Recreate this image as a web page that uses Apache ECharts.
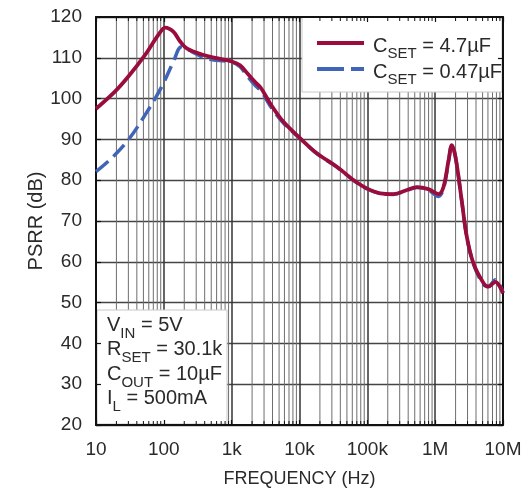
<!DOCTYPE html>
<html>
<head>
<meta charset="utf-8">
<script src="https://cdn.jsdelivr.net/npm/echarts@6/dist/echarts.min.js"></script>
<style>
    html, body { margin: 0; padding: 0; background: #fff; }
    #chart { width: 526px; height: 490px; }
</style>
</head>
<body>
<div id="chart"></div>
<script>
// x tick positions and labels (log axis, decades)
var xTickValues = [10, 100, 1000, 10000, 100000, 1000000, 10000000];
var xTickLabels = ['10', '100', '1k', '10k', '100k', '1M', '10M'];
var yMin = 20, yMax = 120, yStep = 10;

// PSRR curves: [frequency Hz, dB]
var cset47 = [
    [10, 97.5], [19, 101.7], [30, 105.4], [53, 110.7], [83, 115.6], [105, 117.4],
    [138, 116.4], [174, 114], [218, 112.3], [363, 110.8], [600, 109.9], [1000, 109.1],
    [1330, 108.2], [1700, 106.2], [2200, 104.1], [2700, 102.6], [3700, 98.8], [5800, 94.3],
    [10200, 90.3], [18000, 86.6], [35500, 83.3], [63000, 80], [98000, 78], [155000, 76.8],
    [243000, 76.6], [384000, 77.6], [537000, 78.3], [794000, 77.8], [1120000, 76.6],
    [1330000, 78.4], [1580000, 85], [1760000, 88.6], [1990000, 85.8], [2460000, 75.1],
    [2930000, 66.1], [3670000, 59.6], [5200000, 54.7], [6100000, 53.9], [7700000, 55.1],
    [10000000, 52.3]
];
var cset047 = [
    [10, 82.1], [17, 85.4], [30, 89.9], [53, 96], [93, 102.9], [138, 109], [183, 112.7],
    [258, 111.5], [406, 109.9], [600, 109.4], [1000, 109.0], [1330, 107.8], [1700, 105.5],
    [2200, 103.3], [2700, 101.9], [3700, 98.2], [5800, 94.0], [10200, 90.2], [18000, 86.5],
    [35500, 83.2], [63000, 79.9], [98000, 77.9], [155000, 76.7], [243000, 76.5],
    [384000, 77.5], [537000, 78.2], [794000, 77.6], [1120000, 76.0], [1330000, 78.0],
    [1580000, 84.8], [1760000, 88.5], [1990000, 85.7], [2460000, 75.0], [2930000, 66.0],
    [3670000, 59.5], [5200000, 54.3], [6100000, 54.0], [7700000, 55.6], [10000000, 52.5]
];
var seriesNames = ['C_SET = 4.7µF', 'C_SET = 0.47µF'];
var notes = ['V_IN = 5V', 'R_SET = 30.1k', 'C_OUT = 10µF', 'I_L = 500mA'];

// minor log grid positions 2..9 in each decade
var minorMult = [2, 3, 4, 5, 6, 7, 8, 9];
var minorFreqs = [];
xTickValues.slice(0, -1).forEach(function (d) {
    minorMult.forEach(function (m) { minorFreqs.push([d * m, yMin]); });
});

var FONT = '"Liberation Sans", Arial, sans-serif';
var TXT = '#2a2a2a';
var RED = '#9a0c3c', BLUE = '#3f64b8';

function sub(s) {
    return s.replace(/^(\w)_(\w+)(.*)$/, '{m|$1}{s|$2}{m|$3}');
}
var rich = {
    m: { fontSize: 20, lineHeight: 22, verticalAlign: 'top', fontFamily: FONT, color: TXT },
    s: { fontSize: 15, lineHeight: 15, padding: [10, 0, 0, 0], verticalAlign: 'top', fontFamily: FONT, color: TXT }
};
var richG = {
    m: { fontSize: 20, lineHeight: 24.5, verticalAlign: 'top', fontFamily: FONT, fill: TXT },
    s: { fontSize: 15, lineHeight: 15, padding: [11, 0, 0, 0], verticalAlign: 'top', fontFamily: FONT, fill: TXT }
};

function frameAxis(pos, extra) {
    var a = {
        type: 'log', logBase: 10, min: 10, max: 10000000, position: pos, z: 3,
        axisLine: { show: true, onZero: false, lineStyle: { color: '#111', width: 2 } },
        axisTick: { show: true, inside: true, length: 5, lineStyle: { color: '#111', width: 1.2 } },
        axisLabel: { show: false },
        splitLine: { show: false }
    };
    return Object.assign(a, extra || {});
}
function frameYAxis(pos, extra) {
    var a = {
        type: 'value', min: yMin, max: yMax, interval: yStep, position: pos, z: 3,
        axisLine: { show: true, onZero: false, lineStyle: { color: '#111', width: 2 } },
        axisTick: { show: true, inside: true, length: 5, lineStyle: { color: '#111', width: 1.2 } },
        axisLabel: { show: false },
        splitLine: { show: false }
    };
    return Object.assign(a, extra || {});
}

var chart = echarts.init(document.getElementById('chart'));
var option = {
    animation: false,
    grid: { left: 96, right: 23, top: 17, bottom: 65, outerBoundsMode: 'none', containLabel: false },
    xAxis: [
        {
            type: 'log', logBase: 10, min: 10, max: 10000000, position: 'bottom', z: 0,
            axisLine: { show: false }, axisTick: { show: false }, axisLabel: { show: false },
            splitLine: { show: true, lineStyle: { color: '#333', width: 1.5 } }
        },
        frameAxis('bottom', {
            axisLabel: {
                show: true, fontSize: 19, fontFamily: FONT, color: TXT, margin: 15,
                showMinLabel: true, showMaxLabel: true,
                formatter: function (v) {
                    return xTickLabels[xTickValues.indexOf(Math.round(v))] || '';
                }
            },
            name: 'FREQUENCY (Hz)', nameLocation: 'middle', nameGap: 45, nameMoveOverlap: false,
            nameTextStyle: { fontSize: 18, fontFamily: FONT, color: TXT }
        }),
        frameAxis('top')
    ],
    yAxis: [
        {
            type: 'value', min: yMin, max: yMax, interval: yStep, position: 'left', z: 0,
            axisLine: { show: false }, axisTick: { show: false }, axisLabel: { show: false },
            splitLine: { show: true, lineStyle: { color: '#444', width: 1.3 } }
        },
        frameYAxis('left', {
            axisLabel: { show: true, fontSize: 19, fontFamily: FONT, color: TXT, margin: 14 },
            name: 'PSRR (dB)', nameLocation: 'middle', nameGap: 50, nameMoveOverlap: false,
            nameTextStyle: { fontSize: 20, fontFamily: FONT, color: TXT }
        }),
        frameYAxis('right')
    ],
    legend: {
        data: [
            { name: seriesNames[0], lineStyle: { width: 4 } },
            { name: seriesNames[1], lineStyle: { width: 4, type: [27, 7] } }
        ],
        orient: 'vertical', left: 315, top: 36, z: 5, padding: 0,
        itemWidth: 47, itemHeight: 12, itemGap: 1,
        itemStyle: { opacity: 0 },
        formatter: function (name) { return sub(name); },
        textStyle: { rich: rich, padding: [8, 0, 0, 4] }
    },
    graphic: [
        {
            type: 'rect', z: 2, silent: true,
            shape: { x: 302, y: 17, width: 200, height: 75 },
            style: { fill: '#fff', stroke: '#c8c8c8', lineWidth: 1 }
        },
        {
            type: 'rect', z: 2, silent: true,
            shape: { x: 97, y: 310, width: 130, height: 114 },
            style: { fill: '#fff', stroke: '#c8c8c8', lineWidth: 1 }
        },
        {
            type: 'text', z: 5, silent: true, x: 107, y: 315,
            style: { text: notes.map(sub).join('\n'), rich: richG, fill: TXT }
        }
    ],
    series: [
        {
            type: 'custom', name: 'minor grid', z: 1, silent: true,
            xAxisIndex: 0, yAxisIndex: 0, data: minorFreqs,
            renderItem: function (params, api) {
                var b = api.coord([api.value(0), yMin]);
                var t = api.coord([api.value(0), yMax]);
                return {
                    type: 'line',
                    shape: { x1: b[0], y1: b[1], x2: t[0], y2: t[1] },
                    style: { stroke: '#6e6e6e', lineWidth: 1 }
                };
            }
        },
        {
            type: 'custom', name: 'minor ticks', z: 3, silent: true,
            xAxisIndex: 0, yAxisIndex: 0, data: minorFreqs,
            renderItem: function (params, api) {
                var b = api.coord([api.value(0), yMin]);
                var t = api.coord([api.value(0), yMax]);
                var st = { stroke: '#111', lineWidth: 1 };
                return {
                    type: 'group',
                    children: [
                        { type: 'line', shape: { x1: b[0], y1: b[1], x2: b[0], y2: b[1] - 4 }, style: st },
                        { type: 'line', shape: { x1: t[0], y1: t[1], x2: t[0], y2: t[1] + 4 }, style: st }
                    ]
                };
            }
        },
        {
            type: 'line', name: seriesNames[1], data: cset047, z: 4,
            xAxisIndex: 0, yAxisIndex: 0,
            symbol: 'none', smooth: 0.35,
            lineStyle: { color: BLUE, width: 3.5, type: [16, 7] },
            itemStyle: { color: BLUE }
        },
        {
            type: 'line', name: seriesNames[0], data: cset47, z: 4,
            xAxisIndex: 0, yAxisIndex: 0,
            symbol: 'none', smooth: 0.35,
            lineStyle: { color: RED, width: 3.8 },
            itemStyle: { color: RED }
        }
    ]
};
chart.setOption(option);
</script>
</body>
</html>
